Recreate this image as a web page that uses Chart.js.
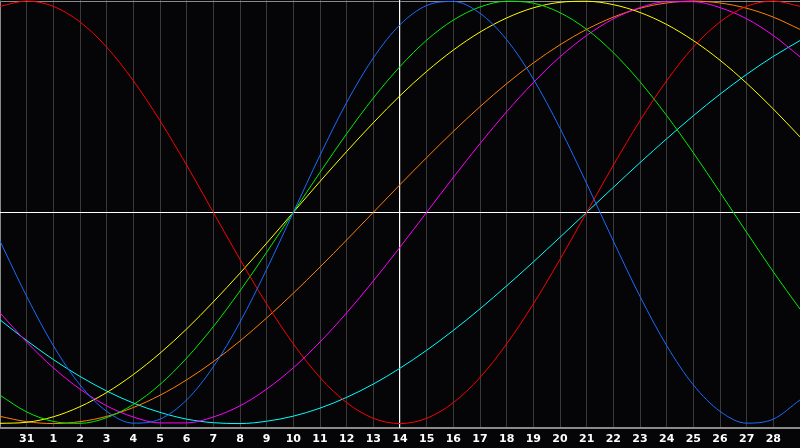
<!DOCTYPE html>
<html>
<head>
<meta charset="utf-8">
<script src="https://cdn.jsdelivr.net/npm/chart.js@4/dist/chart.umd.min.js"></script>
<style>
  html, body { margin: 0; padding: 0; background: #050508; }
  #wrap { width: 800px; height: 448px; }
</style>
</head>
<body>
<div id="wrap"><canvas id="chart" width="800" height="448"></canvas></div>
<script>
// day labels under the grid lines (first and last line unlabeled)
var dayLabels = ['', '31', '1', '2', '3', '4', '5', '6', '7', '8', '9', '10', '11', '12', '13',
    '14', '15', '16', '17', '18', '19', '20', '21', '22', '23', '24', '25', '26', '27', '28', ''];

var todayIndex = 15; // "14"

// one value per day
var physical = [-0.136, -0.398, -0.631, -0.817, -0.942, -0.998, -0.979, -0.888, -0.731, -0.520, -0.270,
    0, 0.270, 0.520, 0.731, 0.888, 0.979, 0.998, 0.942, 0.817, 0.631, 0.398, 0.136,
    -0.136, -0.398, -0.631, -0.817, -0.942, -0.998, -0.979, -0.888];
var emotional = [0.975, 1, 0.975, 0.901, 0.782, 0.623, 0.434, 0.223, 0, -0.223, -0.434,
    -0.623, -0.782, -0.901, -0.975, -1, -0.975, -0.901, -0.782, -0.623, -0.434, -0.223,
    0, 0.223, 0.434, 0.623, 0.782, 0.901, 0.975, 1, 0.975];
var intellectual = [-0.866, -0.945, -0.990, -0.999, -0.972, -0.910, -0.815, -0.690, -0.541, -0.372, -0.189,
    0, 0.189, 0.372, 0.541, 0.690, 0.815, 0.910, 0.972, 0.999, 0.990, 0.945, 0.866,
    0.756, 0.618, 0.458, 0.282, 0.095, -0.095, -0.282, -0.458];
var intuitive = [-0.476, -0.614, -0.736, -0.837, -0.916, -0.969, -0.997, -0.997, -0.969, -0.916, -0.837,
    -0.736, -0.614, -0.476, -0.325, -0.165, 0, 0.165, 0.325, 0.476, 0.614, 0.736, 0.837,
    0.916, 0.969, 0.997, 0.997, 0.969, 0.916, 0.837, 0.736];
var aesthetic = [-0.999, -0.994, -0.968, -0.920, -0.853, -0.768, -0.667, -0.552, -0.424, -0.288, -0.146,
    0, 0.146, 0.288, 0.424, 0.552, 0.667, 0.768, 0.853, 0.920, 0.968, 0.994, 0.999,
    0.983, 0.946, 0.889, 0.813, 0.720, 0.611, 0.489, 0.357];
var awareness = [-0.966, -0.991, -1, -0.991, -0.966, -0.924, -0.866, -0.793, -0.707, -0.609, -0.5,
    -0.383, -0.259, -0.131, 0, 0.131, 0.259, 0.383, 0.5, 0.609, 0.707, 0.793, 0.866,
    0.924, 0.966, 0.991, 1, 0.991, 0.966, 0.924, 0.866];
var spiritual = [-0.509, -0.607, -0.697, -0.777, -0.846, -0.903, -0.947, -0.979, -0.996, -1.000, -0.989,
    -0.965, -0.927, -0.876, -0.813, -0.738, -0.653, -0.559, -0.457, -0.348, -0.235, -0.118,
    0, 0.118, 0.235, 0.348, 0.457, 0.559, 0.653, 0.738, 0.813];

function curve(label, values, color) {
    return {
        label: label,
        data: values,
        borderColor: color,
        borderWidth: 1,
        pointRadius: 0,
        fill: false,
        cubicInterpolationMode: 'monotone',
    };
}

// white zero line + today line, and the grey frame
var crossLines = {
    id: 'crossLines',
    beforeDatasetsDraw: function (chart) {
        var ctx = chart.ctx;
        var area = chart.chartArea;
        var x = chart.scales.x.getPixelForValue(todayIndex);
        var y = chart.scales.y.getPixelForValue(0);
        ctx.save();
        ctx.strokeStyle = '#8a8a8a';
        ctx.lineWidth = 1;
        ctx.beginPath();
        ctx.moveTo(area.left + 0.5, area.bottom);
        ctx.lineTo(area.left + 0.5, area.top + 1.5);
        ctx.lineTo(area.right, area.top + 1.5);
        ctx.stroke();
        ctx.strokeStyle = '#ffffff';
        ctx.beginPath();
        ctx.moveTo(area.left, Math.round(y) + 0.5);
        ctx.lineTo(area.right, Math.round(y) + 0.5);
        ctx.moveTo(Math.round(x) - 0.5, area.top);
        ctx.lineTo(Math.round(x) - 0.5, area.bottom);
        ctx.stroke();
        ctx.restore();
    }
};

new Chart(document.getElementById('chart'), {
    type: 'line',
    data: {
        labels: dayLabels,
        datasets: [
            curve('Physical', physical, '#1a6cff'),
            curve('Emotional', emotional, '#ff0000'),
            curve('Intellectual', intellectual, '#00ee00'),
            curve('Intuitive', intuitive, '#ff00ff'),
            curve('Aesthetic', aesthetic, '#ffff00'),
            curve('Awareness', awareness, '#ff8000'),
            curve('Spiritual', spiritual, '#00ffff'),
        ]
    },
    options: {
        responsive: false,
        animation: false,
        devicePixelRatio: 1,
        layout: { padding: 0, autoPadding: false },
        plugins: {
            legend: { display: false },
            tooltip: { enabled: false },
        },
        scales: {
            x: {
                offset: false,
                grid: {
                    color: '#3a3a3a',
                    lineWidth: 1,
                    drawTicks: false,
                },
                border: { color: '#8a8a8a', width: 2 },
                ticks: {
                    color: '#ffffff',
                    autoSkip: false,
                    maxRotation: 0,
                    padding: 5,
                    font: { family: 'DejaVu Sans', size: 11, weight: 'bold' },
                },
                afterFit: function (scale) {
                    scale.height = 20;
                    scale.paddingLeft = 0;
                    scale.paddingRight = 0;
                },
            },
            y: {
                display: false,
                min: -1.021,
                max: 1.005,
            },
        },
    },
    plugins: [crossLines],
});
</script>
</body>
</html>
